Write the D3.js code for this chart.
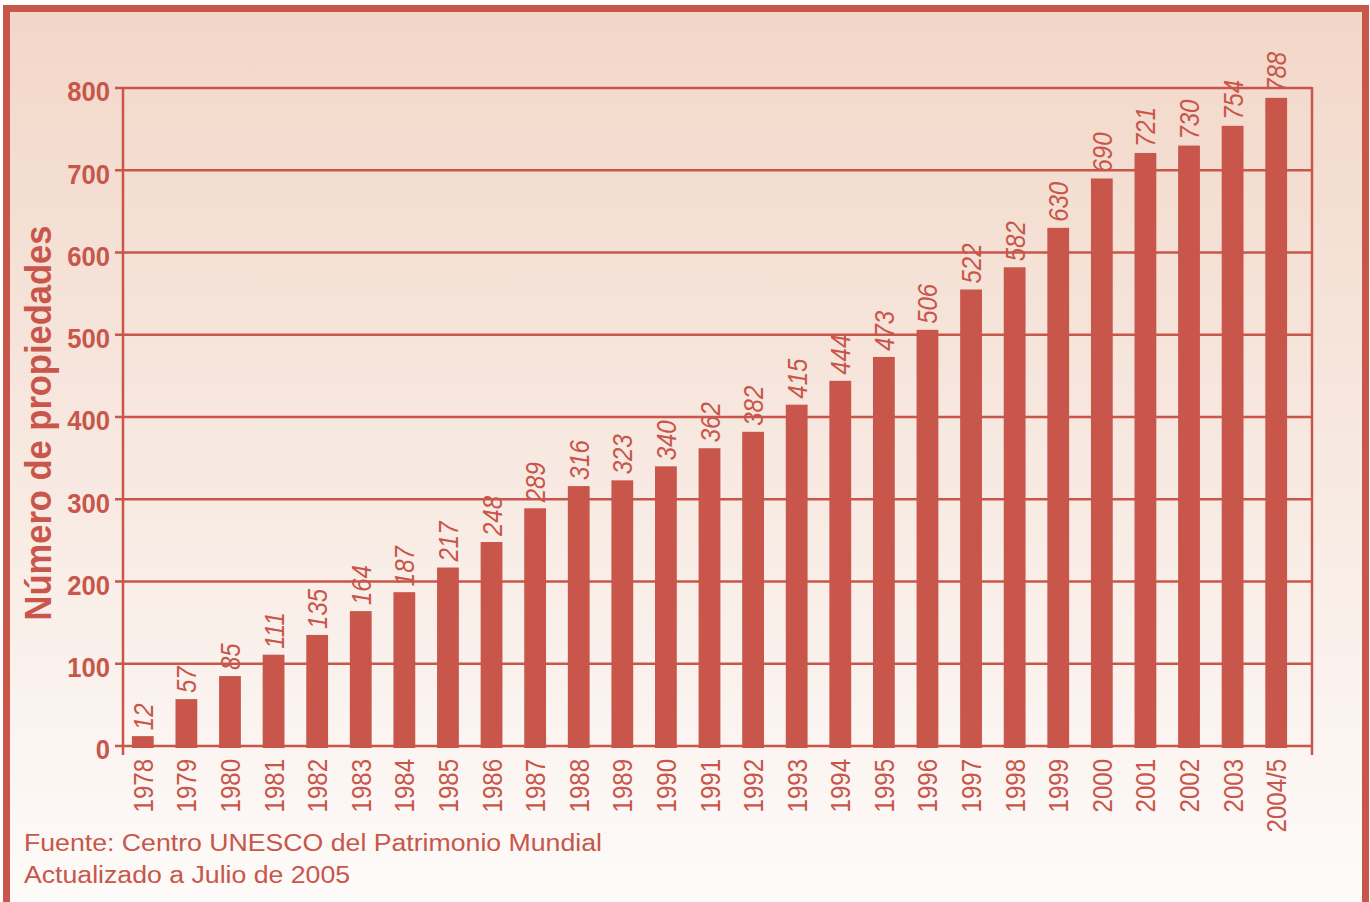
<!DOCTYPE html>
<html>
<head>
<meta charset="utf-8">
<script src="https://cdn.jsdelivr.net/npm/d3@7"></script>
<style>
  body { margin: 0; background: #fff; }
  text { font-family: "Liberation Sans", Arial, sans-serif; fill: #c8564a; }
</style>
</head>
<body>
<div class="container"></div>
<script>
// years on the x axis
var years = ['1978', '1979', '1980', '1981', '1982', '1983', '1984', '1985', '1986',
  '1987', '1988', '1989', '1990', '1991', '1992', '1993', '1994', '1995', '1996',
  '1997', '1998', '1999', '2000', '2001', '2002', '2003', '2004/5'];
// printed numbers above the bars
var labels = [12, 57, 85, 111, 135, 164, 187, 217, 248, 289, 316, 323, 340, 362, 382,
  415, 444, 473, 506, 522, 582, 630, 690, 721, 730, 754, 788];
// bar heights as drawn (1997 bar is drawn taller than its label)
var heights = [12, 57, 85, 111, 135, 164, 187, 217, 248, 289, 316, 323, 340, 362, 382,
  415, 444, 473, 506, 555, 582, 630, 690, 721, 730, 754, 788];
var yTicks = [0, 100, 200, 300, 400, 500, 600, 700, 800];

const WIDTH = 1370;
const HEIGHT = 902;
const RED = '#c8564a';
const LEFT = 123, RIGHT = 1312, TOP = 88, BOTTOM = 746;
const STRETCH = 1.16; // the original text is a bit wide

var translate = (x, y) => (`translate(${x},${y})`);

var xScale = d3.scaleBand()
    .domain(years)
    .range([121, 1298])
    .paddingInner(0.5)
    .paddingOuter(0.25);

var yScale = d3.scaleLinear()
    .domain([0, 800])
    .range([BOTTOM, TOP]);

var xMid = d => xScale(d) + xScale.bandwidth() / 2;

var svg = d3.select('.container').append('svg')
    .attr('width', WIDTH)
    .attr('height', HEIGHT);

var grad = svg.append('defs').append('linearGradient')
    .attr('id', 'bg')
    .attr('x1', 0).attr('y1', 0).attr('x2', 0).attr('y2', 1);
grad.append('stop').attr('offset', '0%').attr('stop-color', '#f2d7c8');
grad.append('stop').attr('offset', '55%').attr('stop-color', '#f8ebe4');
grad.append('stop').attr('offset', '100%').attr('stop-color', '#fefcfb');

// frame
svg.append('rect')
    .attr('x', 6.5).attr('y', 8.5)
    .attr('width', 1359).attr('height', 920)
    .attr('fill', 'url(#bg)')
    .attr('stroke', RED)
    .attr('stroke-width', 7);

// grid lines + left ticks
svg.append('g').selectAll('line')
    .data(yTicks)
    .enter().append('line')
    .attr('x1', 115).attr('x2', RIGHT)
    .attr('y1', d => yScale(d)).attr('y2', d => yScale(d))
    .attr('stroke', RED)
    .attr('stroke-width', 2.5);

// axis frame lines
svg.append('line')
    .attr('x1', LEFT).attr('x2', LEFT).attr('y1', TOP).attr('y2', 755)
    .attr('stroke', RED).attr('stroke-width', 2.5);
svg.append('line')
    .attr('x1', RIGHT).attr('x2', RIGHT).attr('y1', TOP - 1).attr('y2', 755)
    .attr('stroke', RED).attr('stroke-width', 2.5);

// y tick labels
svg.append('g').selectAll('text')
    .data(yTicks)
    .enter().append('text')
    .attr('transform', d => translate(110, yScale(d) + 4) + ' scale(0.95,1)')
    .attr('dy', '0.35em')
    .attr('text-anchor', 'end')
    .style('font-size', '27px')
    .style('font-weight', 'bold')
    .text(d => d);

// y title
svg.append('text')
    .attr('transform', translate(51, 423) + ' scale(1.08,1) rotate(-90)')
    .attr('text-anchor', 'middle')
    .style('font-size', '34.5px')
    .style('font-weight', 'bold')
    .text('Número de propiedades');

// value labels
svg.append('g').selectAll('text')
    .data(years)
    .enter().append('text')
    .attr('transform', (d, i) => translate(xMid(d) + 10, yScale(heights[i]) - 6) +
        ` scale(${STRETCH},1) rotate(-90)`)
    .attr('text-anchor', 'start')
    .style('font-size', '24px')
    .style('font-style', 'italic')
    .text((d, i) => labels[i]);

// bars
svg.append('g').selectAll('rect')
    .data(years)
    .enter().append('rect')
    .attr('x', d => xScale(d))
    .attr('y', (d, i) => yScale(heights[i]))
    .attr('width', xScale.bandwidth())
    .attr('height', (d, i) => BOTTOM + 2 - yScale(heights[i]))
    .attr('fill', RED);

// year labels
svg.append('g').selectAll('text')
    .data(years)
    .enter().append('text')
    .attr('transform', d => translate(xMid(d) + 10, 759) + ` scale(${STRETCH},1) rotate(-90)`)
    .attr('text-anchor', 'end')
    .style('font-size', '24px')
    .text(d => d);

// source
svg.append('text')
    .attr('transform', translate(24, 851) + ` scale(${STRETCH},1)`)
    .style('font-size', '23px')
    .text('Fuente: Centro UNESCO del Patrimonio Mundial');
svg.append('text')
    .attr('transform', translate(24, 883) + ` scale(${STRETCH},1)`)
    .style('font-size', '23px')
    .text('Actualizado a Julio de 2005');
</script>
</body>
</html>
